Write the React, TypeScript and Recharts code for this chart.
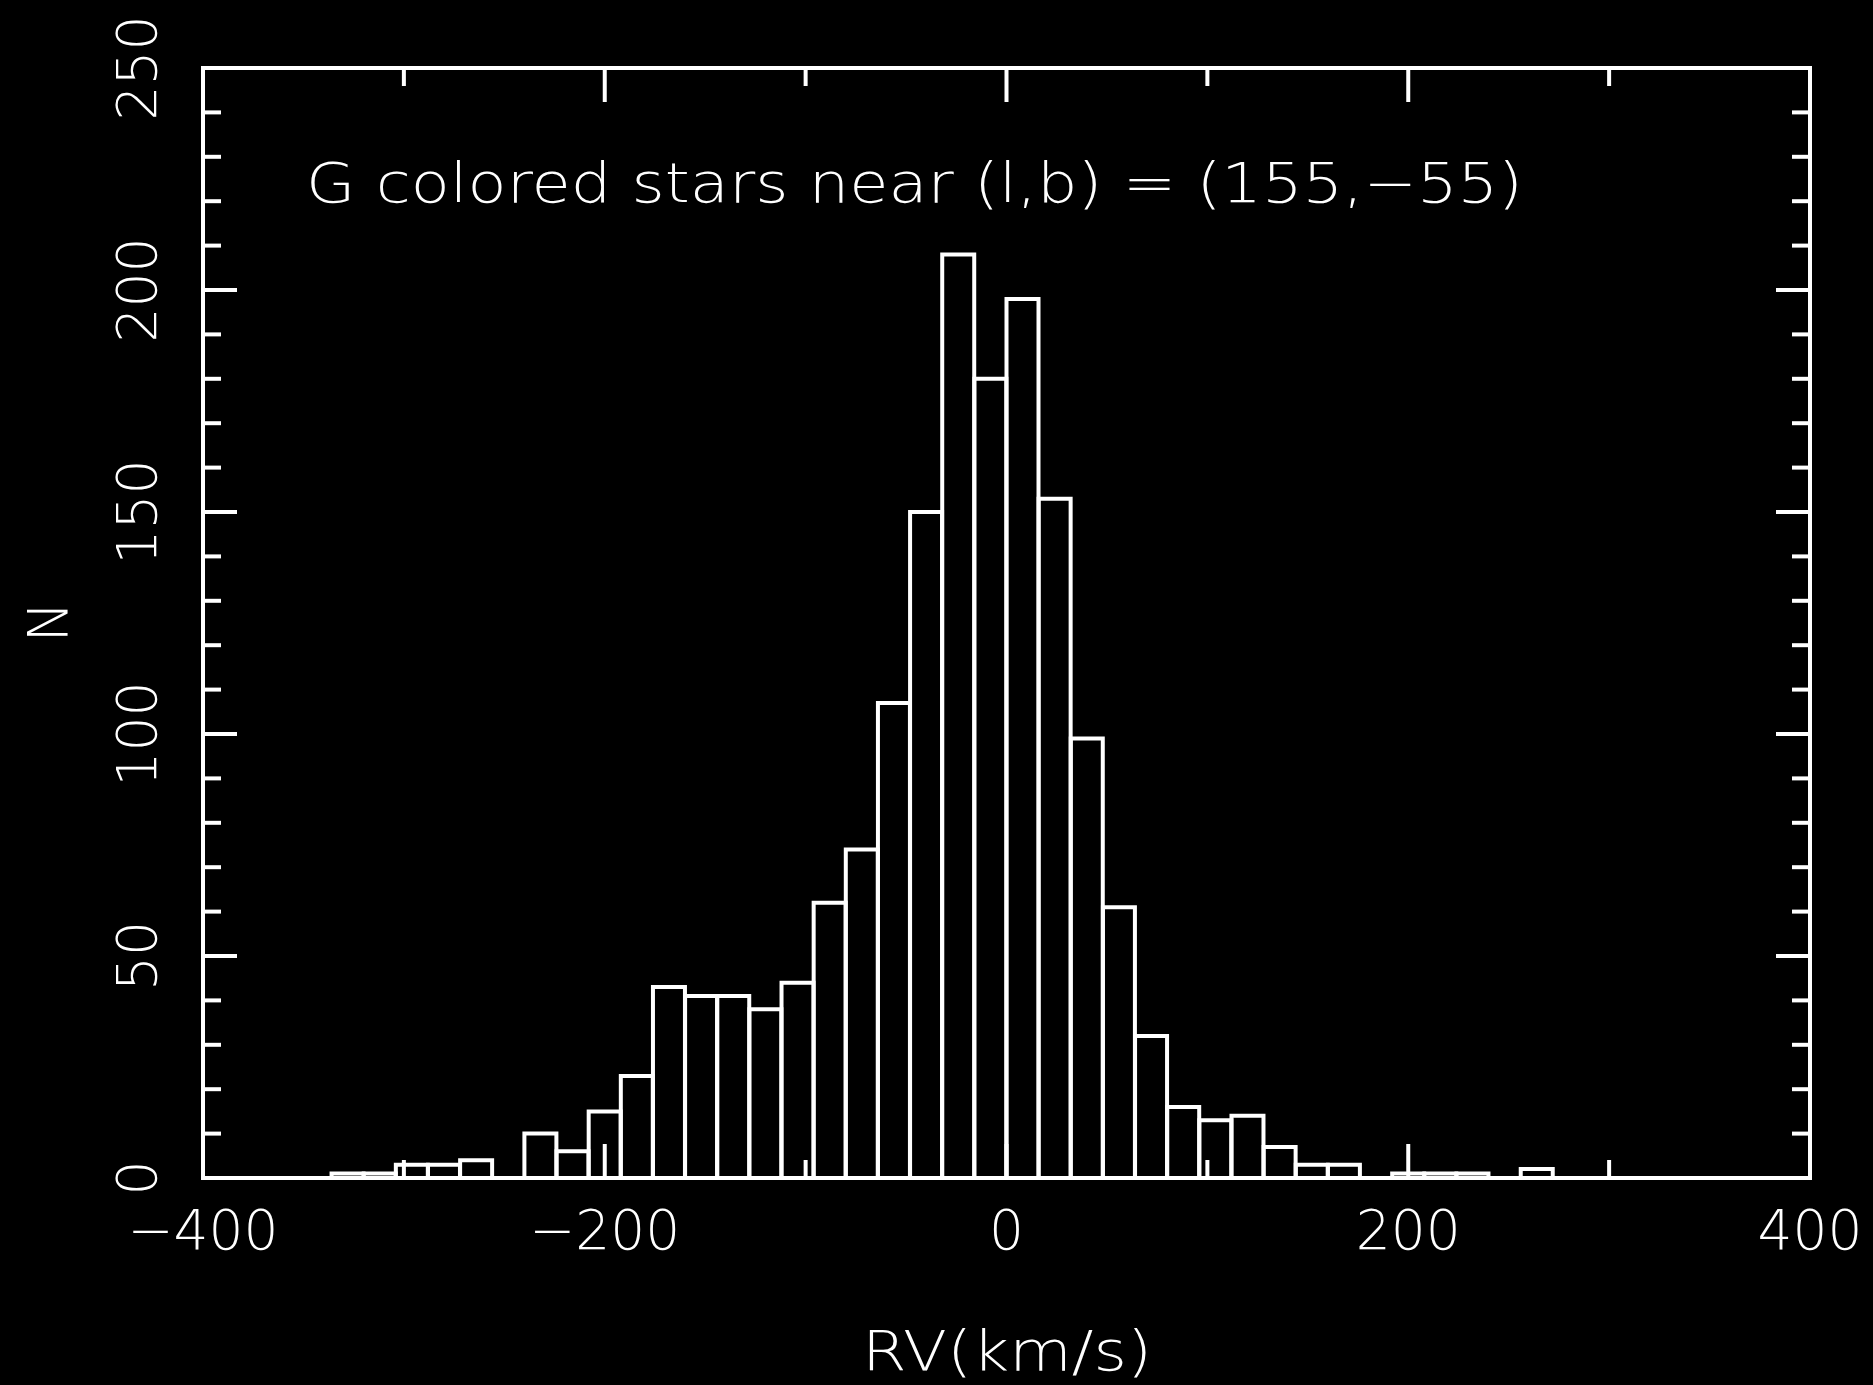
import React from "react";
import { ComposedChart, Bar, Line, XAxis, YAxis } from "recharts";

// Histogram bins (16 km/s wide), bin centres in km/s
const BIN_CENTERS = [
  -392, -376, -360, -344, -328, -312, -296, -280, -264, -248,
  -232, -216, -200, -184, -168, -152, -136, -120, -104, -88,
  -72, -56, -40, -24, -8, 8, 24, 40, 56, 72,
  88, 104, 120, 136, 152, 168, 184, 200, 216, 232,
  248, 264, 280, 296, 312, 328, 344, 360, 376, 392,
];
// Star counts N per bin
const COUNTS = [
  0, 0, 0, 0, 1, 1, 3, 3, 4, 0,
  10, 6, 15, 23, 43, 41, 41, 38, 44, 62,
  74, 107, 150, 208, 180, 198, 153, 99, 61, 32,
  16, 13, 14, 7, 3, 3, 0, 1, 1, 1,
  0, 2, 0, 0, 0, 0, 0, 0, 0, 0,
];

const X_TICKS = [-400, -300, -200, -100, 0, 100, 200, 300, 400];
const X_LABELED = [-400, -200, 0, 200, 400];
const Y_TICKS = [0, 10, 20, 30, 40, 50, 60, 70, 80, 90, 100, 110, 120, 130, 140, 150, 160, 170, 180, 190, 200, 210, 220, 230, 240, 250];
const Y_LABELED = [0, 50, 100, 150, 200, 250];

const TITLE = "G colored stars near (l,b) = (155,\u221255)";
const X_LABEL = "RV(km/s)";
const Y_LABEL = "N";

const data = BIN_CENTERS.map((rv, i) => ({ rv, n: COUNTS[i] }));

const FG = "#ffffff";
const FONT = "'DejaVu Sans', 'Liberation Sans', sans-serif";
const FW = 200;
const FS = 55;
const LW = 4;
const MAJOR = 34;
const MINOR = 18;

const fmt = (v: number) => (v < 0 ? "\u2212" + Math.abs(v) : String(v));

const BottomTick = (p: any) => {
  const { x, y, payload } = p;
  const v = payload.value;
  const major = X_LABELED.includes(v);
  return (
    <g>
      <line x1={x} y1={y} x2={x} y2={y - (major ? MAJOR : MINOR)} stroke={FG} strokeWidth={LW} />
      {major && (
        <text x={x} y={y + 52} textAnchor="middle" dominantBaseline="central" fill={FG} fontFamily={FONT} fontWeight={FW} fontSize={FS}>
          {fmt(v)}
        </text>
      )}
    </g>
  );
};

const TopTick = (p: any) => {
  const { x, y, payload } = p;
  const major = X_LABELED.includes(payload.value);
  return <line x1={x} y1={y} x2={x} y2={y + (major ? MAJOR : MINOR)} stroke={FG} strokeWidth={LW} />;
};

const LeftTick = (p: any) => {
  const { x, y, payload } = p;
  const v = payload.value;
  const major = Y_LABELED.includes(v);
  const tx = x - 66;
  return (
    <g>
      <line x1={x} y1={y} x2={x + (major ? MAJOR : MINOR)} y2={y} stroke={FG} strokeWidth={LW} />
      {major && (
        <text x={tx} y={y} transform={`rotate(-90 ${tx} ${y})`} textAnchor="middle" dominantBaseline="central" fill={FG} fontFamily={FONT} fontWeight={FW} fontSize={FS}>
          {fmt(v)}
        </text>
      )}
    </g>
  );
};

const RightTick = (p: any) => {
  const { x, y, payload } = p;
  const major = Y_LABELED.includes(payload.value);
  return <line x1={x} y1={y} x2={x - (major ? MAJOR : MINOR)} y2={y} stroke={FG} strokeWidth={LW} />;
};

const axisLine = { stroke: FG, strokeWidth: LW, strokeLinecap: "square" as const };

export default function App() {
  return (
    <div style={{ position: "absolute", left: 0, top: 0, width: 1873, height: 1385, background: "#000" }}>
      <ComposedChart
        width={1873}
        height={1385}
        data={data}
        margin={{ top: 67, right: 62, bottom: 57, left: 0 }}
        barCategoryGap={0}
        barGap={0}
        style={{ background: "#000" }}
      >
        <XAxis
          dataKey="rv"
          type="number"
          domain={[-400, 400]}
          allowDataOverflow
          ticks={X_TICKS}
          interval={0}
          height={150}
          tickSize={0}
          tickMargin={0}
          tickLine={false}
          axisLine={axisLine}
          tick={(p: any) => <BottomTick {...p} />}
        />
        <XAxis
          xAxisId="top"
          dataKey="rv"
          orientation="top"
          type="number"
          domain={[-400, 400]}
          allowDataOverflow
          ticks={X_TICKS}
          interval={0}
          height={1}
          tickSize={0}
          tickMargin={0}
          tickLine={false}
          axisLine={axisLine}
          tick={(p: any) => <TopTick {...p} />}
        />
        <YAxis
          type="number"
          domain={[0, 250]}
          allowDataOverflow
          ticks={Y_TICKS}
          interval={0}
          width={203}
          tickSize={0}
          tickMargin={0}
          tickLine={false}
          axisLine={axisLine}
          tick={(p: any) => <LeftTick {...p} />}
        />
        <YAxis
          yAxisId="right"
          orientation="right"
          type="number"
          domain={[0, 250]}
          allowDataOverflow
          ticks={Y_TICKS}
          interval={0}
          width={1}
          tickSize={0}
          tickMargin={0}
          tickLine={false}
          axisLine={axisLine}
          tick={(p: any) => <RightTick {...p} />}
        />
        <Bar dataKey="n" fill="none" stroke={FG} strokeWidth={LW} isAnimationActive={false} />
        <Line
          xAxisId="top"
          yAxisId="right"
          dataKey="n"
          stroke="none"
          strokeWidth={0}
          dot={false}
          activeDot={false}
          legendType="none"
          isAnimationActive={false}
        />
        <text x={306} y={202} textLength={1217} lengthAdjust="spacingAndGlyphs" fill={FG} fontFamily={FONT} fontWeight={FW} fontSize={FS}>
          {TITLE}
        </text>
        <text x={1007} y={1370} textAnchor="middle" textLength={290} lengthAdjust="spacingAndGlyphs" fill={FG} fontFamily={FONT} fontWeight={FW} fontSize={FS}>
          {X_LABEL}
        </text>
        <text x={48} y={622} transform="rotate(-90 48 622)" textAnchor="middle" dominantBaseline="central" fill={FG} fontFamily={FONT} fontWeight={FW} fontSize={FS}>
          {Y_LABEL}
        </text>
      </ComposedChart>
    </div>
  );
}
